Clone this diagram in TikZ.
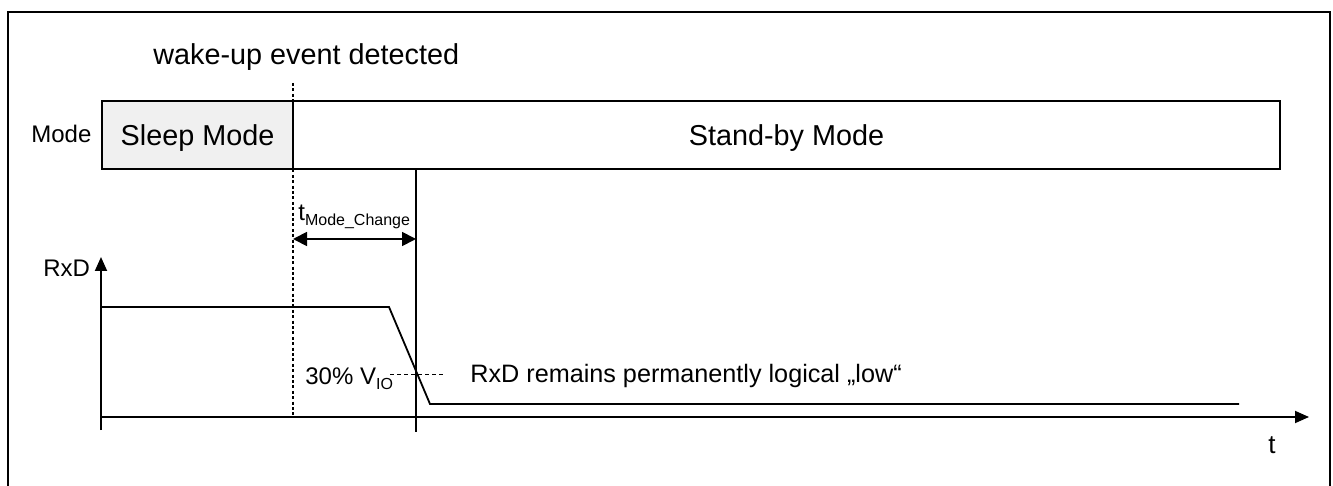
\documentclass[tikz,border=0pt]{standalone}
\usepackage{fontspec}
\setmainfont{Liberation Sans}
\usetikzlibrary{arrows.meta}
\begin{document}
\begin{tikzpicture}[x=0.5pt,y=-0.5pt,
  modebox/.style={draw, line width=1pt, inner sep=0pt, outer sep=0pt, minimum height=34pt, text depth=0pt, font=\fontsize{14.4}{16}\selectfont},
  lbl/.style={inner sep=0pt, anchor=base west, font=\fontsize{12}{14}\selectfont},
  biglbl/.style={inner sep=0pt, anchor=base west, font=\fontsize{14.4}{16}\selectfont},
  sig/.style={line width=0.9pt},
  tip/.style={-{Triangle[length=7pt,width=6pt]}}]
\useasboundingbox (0,0) rectangle (1333,486);
% outer frame
\draw[line width=0.6pt] (8,490) -- (8,12) -- (1330,12) -- (1330,490);
% mode boxes
\node[modebox, fill=black!6, minimum width=95.5pt] (sleep) at (197.5,135) {Sleep Mode};
\node[modebox, minimum width=493.5pt] (standby) at (786.5,135) {Stand-by Mode};
\node[lbl] (modelbl) at (31,143) {Mode};
\node[biglbl] (wake) at (153,65) {wake-up event detected};
% axes
\coordinate (yb) at (101,430);
\coordinate (yt) at (101,257);
\coordinate (xl) at (101,417);
\coordinate (xr) at (1309,417);
\draw[sig, tip] (yb) -- (yt);
\draw[sig, tip] (xl) -- (xr);
\node[lbl] (rxd) at (43,277) {RxD};
\node[lbl, font=\fontsize{13}{15}\selectfont] (tl) at (1268,453) {t};
% dotted event line
\coordinate (d1) at (293,83);
\coordinate (d2) at (293,415);
\draw[line width=0.8pt, dash pattern=on 1.5pt off 1.2pt] (d1) -- (d2);
% solid mode-change line
\coordinate (m1) at (416,169);
\coordinate (m2) at (416,432);
\draw[sig] (m1) -- (m2);
% t_Mode_Change arrow
\coordinate (a1) at (293,239);
\coordinate (a2) at (416,239);
\draw[sig, {Triangle[length=7pt,width=7pt]}-{Triangle[length=7pt,width=7pt]}] (a1) -- (a2);
\node[lbl] (tmc) at (298,221) {t\raisebox{-0.35ex}{\fontsize{8}{9}\selectfont Mode\_Change}};
% RxD signal
\coordinate (s0) at (101,307);
\coordinate (s1) at (389,307);
\coordinate (s2) at (430,404);
\coordinate (s3) at (1239,404);
\draw[sig] (s0) -- (s1) -- (s2) -- (s3);
% 30% threshold
\coordinate (h1) at (390,374);
\coordinate (h2) at (443,374);
\draw[line width=0.4pt, dash pattern=on 2pt off 1.5pt] (h1) -- (h2);
\node[lbl] (vio) at (305,384) {30\% V\raisebox{-0.4ex}{\fontsize{8}{9}\selectfont IO}};
\node[lbl, font=\fontsize{12.6}{15}\selectfont] (remain) at (470,382) {RxD remains permanently logical „low“};
\end{tikzpicture}
\end{document}
